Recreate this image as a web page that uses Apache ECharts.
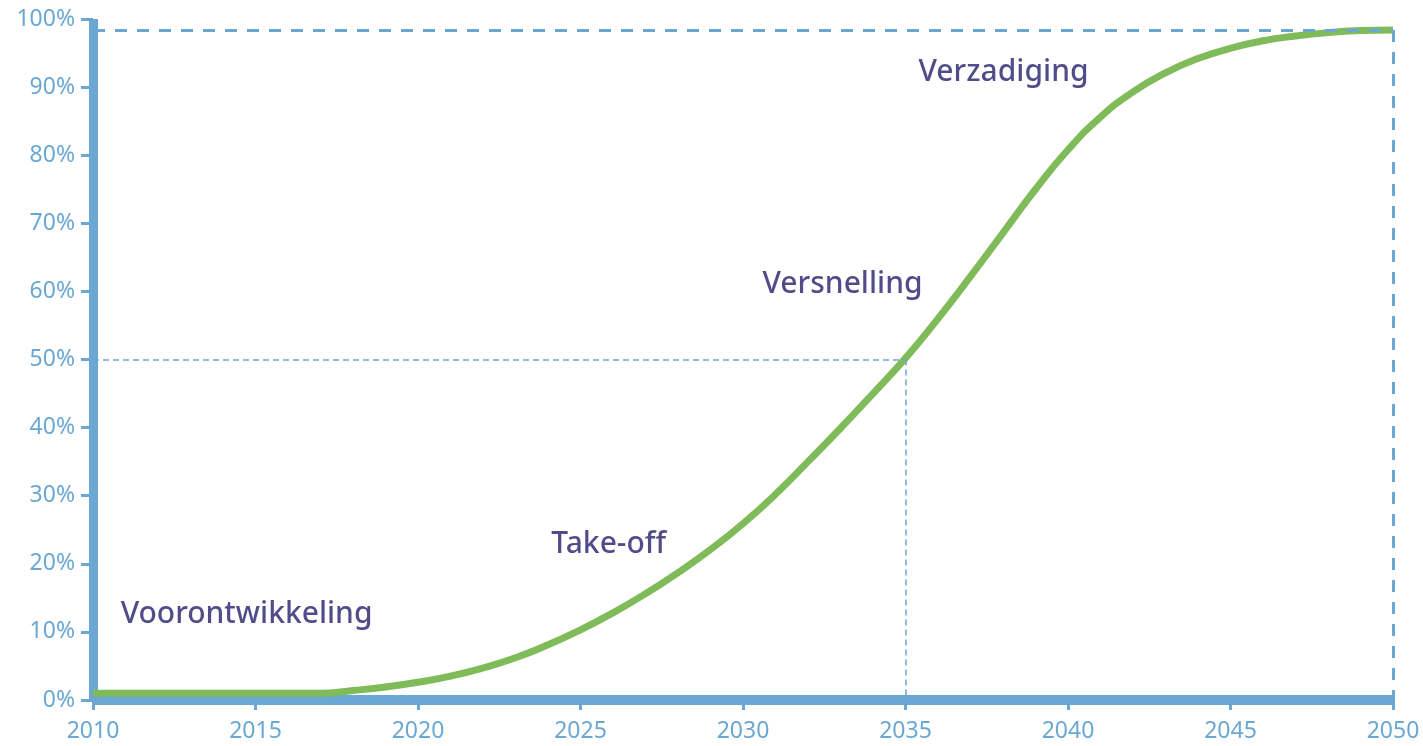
<!DOCTYPE html>
<html lang="nl">
<head>
    <meta charset="UTF-8">
    <title>S-curve transitie</title>
    <script src="https://cdn.jsdelivr.net/npm/echarts@6/dist/echarts.min.js"></script>
    <style>
        html, body { margin: 0; padding: 0; background: #fff; }
        #main { width: 1423px; height: 746px; }
    </style>
</head>
<body>
<div id="main"></div>
<script>
    // jaren en aandeel (%)
    var years = [2010, 2011, 2012, 2013, 2014, 2015, 2016, 2017, 2018, 2019,
                 2020, 2021, 2022, 2023, 2024, 2025, 2026, 2027, 2028, 2029,
                 2030, 2031, 2032, 2033, 2034, 2035, 2036, 2037, 2038, 2039,
                 2040, 2041, 2042, 2043, 2044, 2045, 2046, 2047, 2048, 2049, 2050];
    var share = [1, 1, 1, 1, 1, 1, 1, 1, 1.4, 1.9,
                 2.6, 3.5, 4.7, 6.2, 8.1, 10.3, 12.8, 15.6, 18.7, 22.1,
                 25.9, 30.2, 35.0, 39.9, 45.0, 50.2, 56.0, 62.2, 68.6, 75.0,
                 80.8, 85.6, 89.3, 92.1, 94.2, 95.7, 96.8, 97.5, 98.0, 98.3, 98.4];

    // fasen (tekst, jaar links van tekst, hoogte in %)
    var phaseNames = ['Voorontwikkeling', 'Take-off', 'Versnelling', 'Verzadiging'];
    var phaseYears = [2010.85, 2024.1, 2030.6, 2035.4];
    var phaseValues = [12.5, 22.8, 61, 92.2];

    // hulplijnen
    var midYear = 2035, midValue = 50;
    var endYear = 2050, topValue = 98.4;

    var blue = '#6aa8d3';
    var green = '#80bb5a';
    var purple = '#261e6c';

    var lineData = [];
    for (var i = 0; i < years.length; i++) {
        lineData.push([years[i], share[i]]);
    }
    var phaseData = [];
    for (var i = 0; i < phaseNames.length; i++) {
        phaseData.push({ name: phaseNames[i], value: [phaseYears[i], phaseValues[i]] });
    }

    var chart = echarts.init(document.getElementById('main'));
    var option = {
        animation: false,
        grid: { left: 93, right: 30, top: 19, bottom: 46 },
        xAxis: {
            type: 'value',
            min: 2010,
            max: 2050,
            interval: 5,
            splitLine: { show: false },
            axisLine: { lineStyle: { color: blue, width: 10, cap: 'butt' } },
            axisTick: { length: 10, lineStyle: { color: blue, width: 3 } },
            axisLabel: {
                color: blue, fontSize: 23, margin: 20,
                fontFamily: 'Noto Sans',
                formatter: function (v) { return String(v); }
            }
        },
        yAxis: {
            type: 'value',
            min: 0,
            max: 100,
            interval: 10,
            splitLine: { show: false },
            axisLine: { show: true, lineStyle: { color: blue, width: 9, cap: 'butt' } },
            axisTick: { show: true, length: 12, lineStyle: { color: blue, width: 3 } },
            axisLabel: {
                color: blue, fontSize: 23, margin: 18,
                fontFamily: 'Noto Sans',
                formatter: '{value}%'
            }
        },
        series: [{
            type: 'line',
            data: lineData,
            smooth: 0.5,
            showSymbol: false,
            lineStyle: { color: green, width: 7 },
            z: 3,
            markLine: {
                silent: true,
                symbol: 'none',
                label: { show: false },
                lineStyle: { color: blue, type: [6, 4], width: 1.5 },
                data: [
                    [{ coord: [2010, midValue] }, { coord: [midYear, midValue] }],
                    [{ coord: [midYear, midValue] }, { coord: [midYear, 0] }]
                ]
            }
        }, {
            type: 'line',
            data: [],
            z: 4,
            markLine: {
                silent: true,
                symbol: 'none',
                label: { show: false },
                lineStyle: { color: blue, type: [12, 10], width: 3 },
                data: [
                    [{ coord: [2010, topValue] }, { coord: [endYear, topValue] }],
                    [{ coord: [endYear, topValue] }, { coord: [endYear, 0] }]
                ]
            }
        }, {
            type: 'scatter',
            data: phaseData,
            symbolSize: 0,
            silent: true,
            label: {
                show: true,
                position: 'right',
                distance: 0,
                formatter: '{b}',
                color: purple,
                fontSize: 30,
                fontWeight: 500,
                fontFamily: 'Noto Sans'
            }
        }]
    };
    chart.setOption(option);
</script>
</body>
</html>
